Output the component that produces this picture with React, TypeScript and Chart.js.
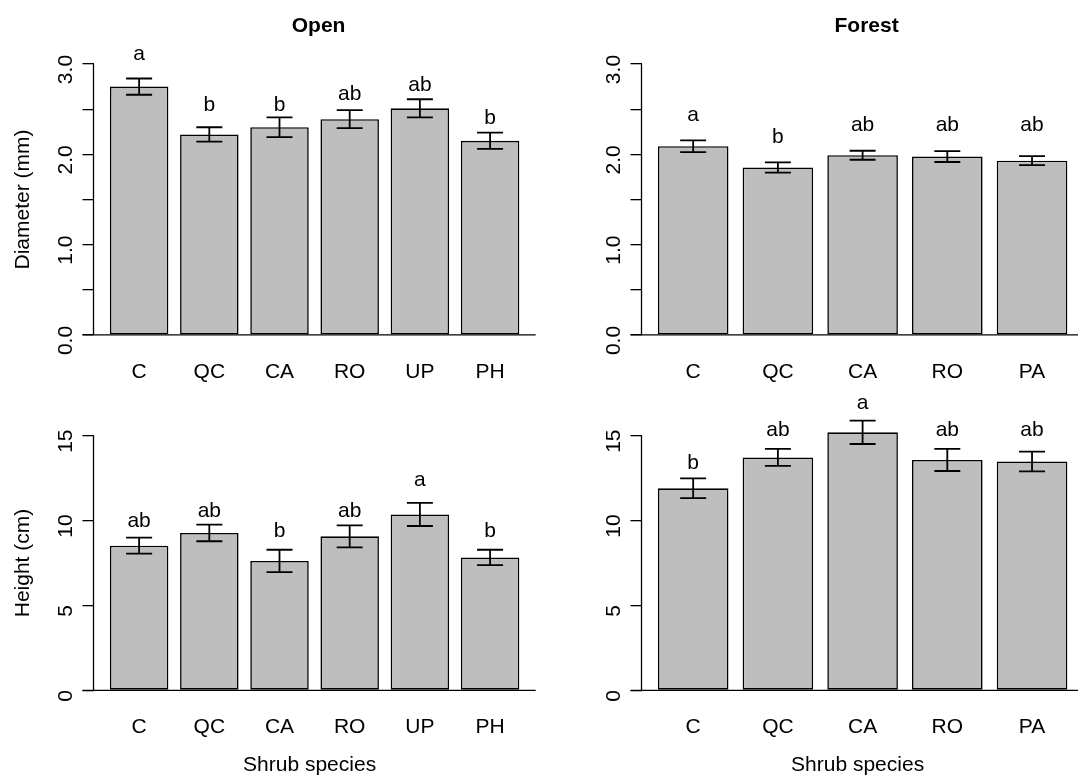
import React, { useEffect, useRef } from 'react';
import { Chart, registerables } from 'chart.js';

Chart.register(...registerables);
Chart.defaults.font.family = "'Liberation Sans', Arial, Helvetica, sans-serif";
Chart.defaults.color = '#000';

// ---------- data ----------
const openCats = ['C', 'QC', 'CA', 'RO', 'UP', 'PH'];
const forestCats = ['C', 'QC', 'CA', 'RO', 'PA'];

const openDiam = [2.75, 2.22, 2.3, 2.39, 2.51, 2.15];
const openDiamSE = [0.09, 0.08, 0.11, 0.1, 0.1, 0.09];
const openDiamLetters = ['a', 'b', 'b', 'ab', 'ab', 'b'];
const openDiamLetterY = [3.04, 2.48, 2.48, 2.6, 2.7, 2.34];

const forestDiam = [2.09, 1.855, 1.99, 1.975, 1.93];
const forestDiamSE = [0.065, 0.057, 0.05, 0.06, 0.05];
const forestDiamLetters = ['a', 'b', 'ab', 'ab', 'ab'];
const forestDiamLetterY = [2.365, 2.125, 2.262, 2.262, 2.262];

const openHeight = [8.52, 9.27, 7.62, 9.07, 10.36, 7.83];
const openHeightSE = [0.47, 0.49, 0.66, 0.65, 0.68, 0.45];
const openHeightLetters = ['ab', 'ab', 'b', 'ab', 'a', 'b'];
const openHeightLetterY = [9.64, 10.23, 9.05, 10.23, 12.04, 9.05];

const forestHeight = [11.9, 13.72, 15.2, 13.57, 13.48];
const forestHeightSE = [0.58, 0.5, 0.69, 0.65, 0.58];
const forestHeightLetters = ['b', 'ab', 'a', 'ab', 'ab'];
const forestHeightLetterY = [13.02, 14.96, 16.55, 14.96, 14.96];

const diamTicks = [0, 0.5, 1, 1.5, 2, 2.5, 3];
const diamTickLabels = ['0.0', '', '1.0', '', '2.0', '', '3.0'];
const heightTicks = [0, 5, 10, 15];
const heightTickLabels = ['0', '5', '10', '15'];

const BAR_SPACE = 0.2;
const FONT = "'Liberation Sans', Arial, Helvetica, sans-serif";

type PanelSpec = {
  cats: string[];
  values: number[];
  se: number[];
  letters: string[];
  letterY: number[];
  yTicks: number[];
  yTickLabels: string[];
  yTop: number;
  title?: string;
  yTitle?: string;
  xTitle?: string;
  box: { left: number; top: number; w: number; h: number };
  pad: { left: number; right: number; top: number; bottom: number };
  yLabelPad: number;
};

const panels: PanelSpec[] = [
  {
    cats: openCats, values: openDiam, se: openDiamSE, letters: openDiamLetters, letterY: openDiamLetterY,
    yTicks: diamTicks, yTickLabels: diamTickLabels, yTop: 3, title: 'Open', yTitle: 'Diameter (mm)',
    box: { left: 0, top: 0, w: 539, h: 388 },
    pad: { left: 93.5, right: 3.3, top: 53.2, bottom: 42.2 },
    yLabelPad: 1.4,
  },
  {
    cats: forestCats, values: forestDiam, se: forestDiamSE, letters: forestDiamLetters, letterY: forestDiamLetterY,
    yTicks: diamTicks, yTickLabels: diamTickLabels, yTop: 3, title: 'Forest',
    box: { left: 539, top: 0, w: 560, h: 388 },
    pad: { left: 102.5, right: 15.3, top: 53.2, bottom: 42.2 },
    yLabelPad: 1.4,
  },
  {
    cats: openCats, values: openHeight, se: openHeightSE, letters: openHeightLetters, letterY: openHeightLetterY,
    yTicks: heightTicks, yTickLabels: heightTickLabels, yTop: 15, yTitle: 'Height (cm)', xTitle: 'Shrub species',
    box: { left: 0, top: 388, w: 539, h: 387 },
    pad: { left: 93.5, right: 3.3, top: 37.5, bottom: 74.5 },
    yLabelPad: 4.3,
  },
  {
    cats: forestCats, values: forestHeight, se: forestHeightSE, letters: forestHeightLetters, letterY: forestHeightLetterY,
    yTicks: heightTicks, yTickLabels: heightTickLabels, yTop: 15, xTitle: 'Shrub species',
    box: { left: 539, top: 388, w: 560, h: 387 },
    pad: { left: 102.5, right: 15.3, top: 37.5, bottom: 74.5 },
    yLabelPad: 4.3,
  },
];

function Panel({ spec }: { spec: PanelSpec }) {
  const ref = useRef<HTMLCanvasElement>(null);

  useEffect(() => {
    const n = spec.cats.length;
    const pos = spec.cats.map((_, i) => BAR_SPACE + 0.5 + i * (1 + BAR_SPACE));
    const xLo = BAR_SPACE;
    const xHi = n * (1 + BAR_SPACE);
    const xExt = 0.04 * (xHi - xLo);
    const yExt = 0.04 * spec.yTop;

    const overlay = {
      id: 'rOverlay',
      afterDraw(chart: any) {
        const ctx = chart.ctx as CanvasRenderingContext2D;
        const xs = chart.scales.x;
        const ys = chart.scales.y;
        const area = chart.chartArea;
        ctx.save();
        ctx.strokeStyle = '#000';
        ctx.fillStyle = '#000';

        // y axis line (from first to last tick)
        const y0 = ys.getPixelForValue(spec.yTicks[0]);
        const y1 = ys.getPixelForValue(spec.yTicks[spec.yTicks.length - 1]);
        ctx.lineWidth = 1.3;
        ctx.beginPath();
        ctx.moveTo(area.left, y0);
        ctx.lineTo(area.left, y1);
        ctx.stroke();

        // baseline at 0
        ctx.beginPath();
        ctx.moveTo(area.left - 11, y0);
        ctx.lineTo(area.right, y0);
        ctx.stroke();

        // error bars
        ctx.lineWidth = 1.8;
        spec.values.forEach((v, i) => {
          const x = xs.getPixelForValue(pos[i]);
          const lo = ys.getPixelForValue(v - spec.se[i]);
          const hi = ys.getPixelForValue(v + spec.se[i]);
          ctx.beginPath();
          ctx.moveTo(x, lo);
          ctx.lineTo(x, hi);
          ctx.moveTo(x - 13, lo);
          ctx.lineTo(x + 13, lo);
          ctx.moveTo(x - 13, hi);
          ctx.lineTo(x + 13, hi);
          ctx.stroke();
        });

        // significance letters
        ctx.font = `21px ${FONT}`;
        ctx.textAlign = 'center';
        ctx.textBaseline = 'alphabetic';
        spec.letters.forEach((t, i) => {
          ctx.fillText(t, xs.getPixelForValue(pos[i]), ys.getPixelForValue(spec.letterY[i]));
        });

        const cx = (area.left + area.right) / 2;
        const cy = (area.top + area.bottom) / 2;
        if (spec.title) {
          ctx.font = `bold 21px ${FONT}`;
          ctx.fillText(spec.title, cx + 4, area.top - 21);
        }
        if (spec.xTitle) {
          ctx.font = `21px ${FONT}`;
          ctx.fillText(spec.xTitle, cx - 5, area.bottom + 70.5);
        }
        if (spec.yTitle) {
          ctx.font = `21px ${FONT}`;
          ctx.translate(area.left - 64.5, cy);
          ctx.rotate(-Math.PI / 2);
          ctx.fillText(spec.yTitle, 0, 0);
        }
        ctx.restore();
      },
    };

    const chart = new Chart(ref.current as HTMLCanvasElement, {
      type: 'bar',
      data: {
        datasets: [
          {
            data: spec.values.map((v, i) => ({ x: pos[i], y: v })),
            backgroundColor: '#bebebe',
            borderColor: '#000',
            borderWidth: 1.6,
            borderSkipped: false,
            categoryPercentage: 1,
            barPercentage: 1 / (1 + BAR_SPACE),
          } as any,
        ],
      },
      options: {
        responsive: false,
        animation: false,
        devicePixelRatio: 1,
        events: [],
        layout: { padding: { left: 0, bottom: 0, top: spec.pad.top, right: spec.pad.right } },
        plugins: {
          legend: { display: false },
          tooltip: { enabled: false },
          title: { display: false },
        },
        scales: {
          x: {
            type: 'linear',
            position: 'bottom',
            min: xLo - xExt,
            max: xHi + xExt,
            offset: false,
            bounds: 'data',
            grid: { display: false },
            border: { display: false },
            afterBuildTicks: (s: any) => {
              s.ticks = pos.map((v) => ({ value: v }));
            },
            afterFit: (s: any) => {
              s.height = spec.pad.bottom;
            },
            ticks: {
              autoSkip: false,
              maxRotation: 0,
              minRotation: 0,
              padding: 6,
              color: '#000',
              font: { size: 21, family: FONT },
              callback: (_v: any, i: number) => spec.cats[i],
            },
          },
          y: {
            type: 'linear',
            position: 'left',
            min: -yExt,
            max: spec.yTop + yExt,
            bounds: 'data',
            grid: {
              display: true,
              drawOnChartArea: false,
              drawTicks: true,
              tickLength: 11,
              color: '#000',
              lineWidth: 1.3,
            },
            border: { display: false },
            afterBuildTicks: (s: any) => {
              s.ticks = spec.yTicks.map((v) => ({ value: v }));
            },
            afterFit: (s: any) => {
              s.width = spec.pad.left;
            },
            ticks: {
              autoSkip: false,
              minRotation: 90,
              maxRotation: 90,
              crossAlign: 'center',
              padding: spec.yLabelPad,
              labelOffset: 5.5,
              color: '#000',
              font: { size: 21, family: FONT },
              callback: (_v: any, i: number) => spec.yTickLabels[i],
            },
          },
        },
      } as any,
      plugins: [overlay],
    });
    return () => chart.destroy();
  }, [spec]);

  return (
    <canvas
      ref={ref}
      width={spec.box.w}
      height={spec.box.h}
      style={{
        position: 'absolute',
        left: spec.box.left,
        top: spec.box.top,
        width: spec.box.w,
        height: spec.box.h,
      }}
    />
  );
}

export default function App() {
  return (
    <div
      style={{
        position: 'absolute',
        left: 0,
        top: 0,
        width: 1078,
        height: 775,
        overflow: 'hidden',
        background: '#fff',
      }}
    >
      {panels.map((p, i) => (
        <Panel key={i} spec={p} />
      ))}
    </div>
  );
}
